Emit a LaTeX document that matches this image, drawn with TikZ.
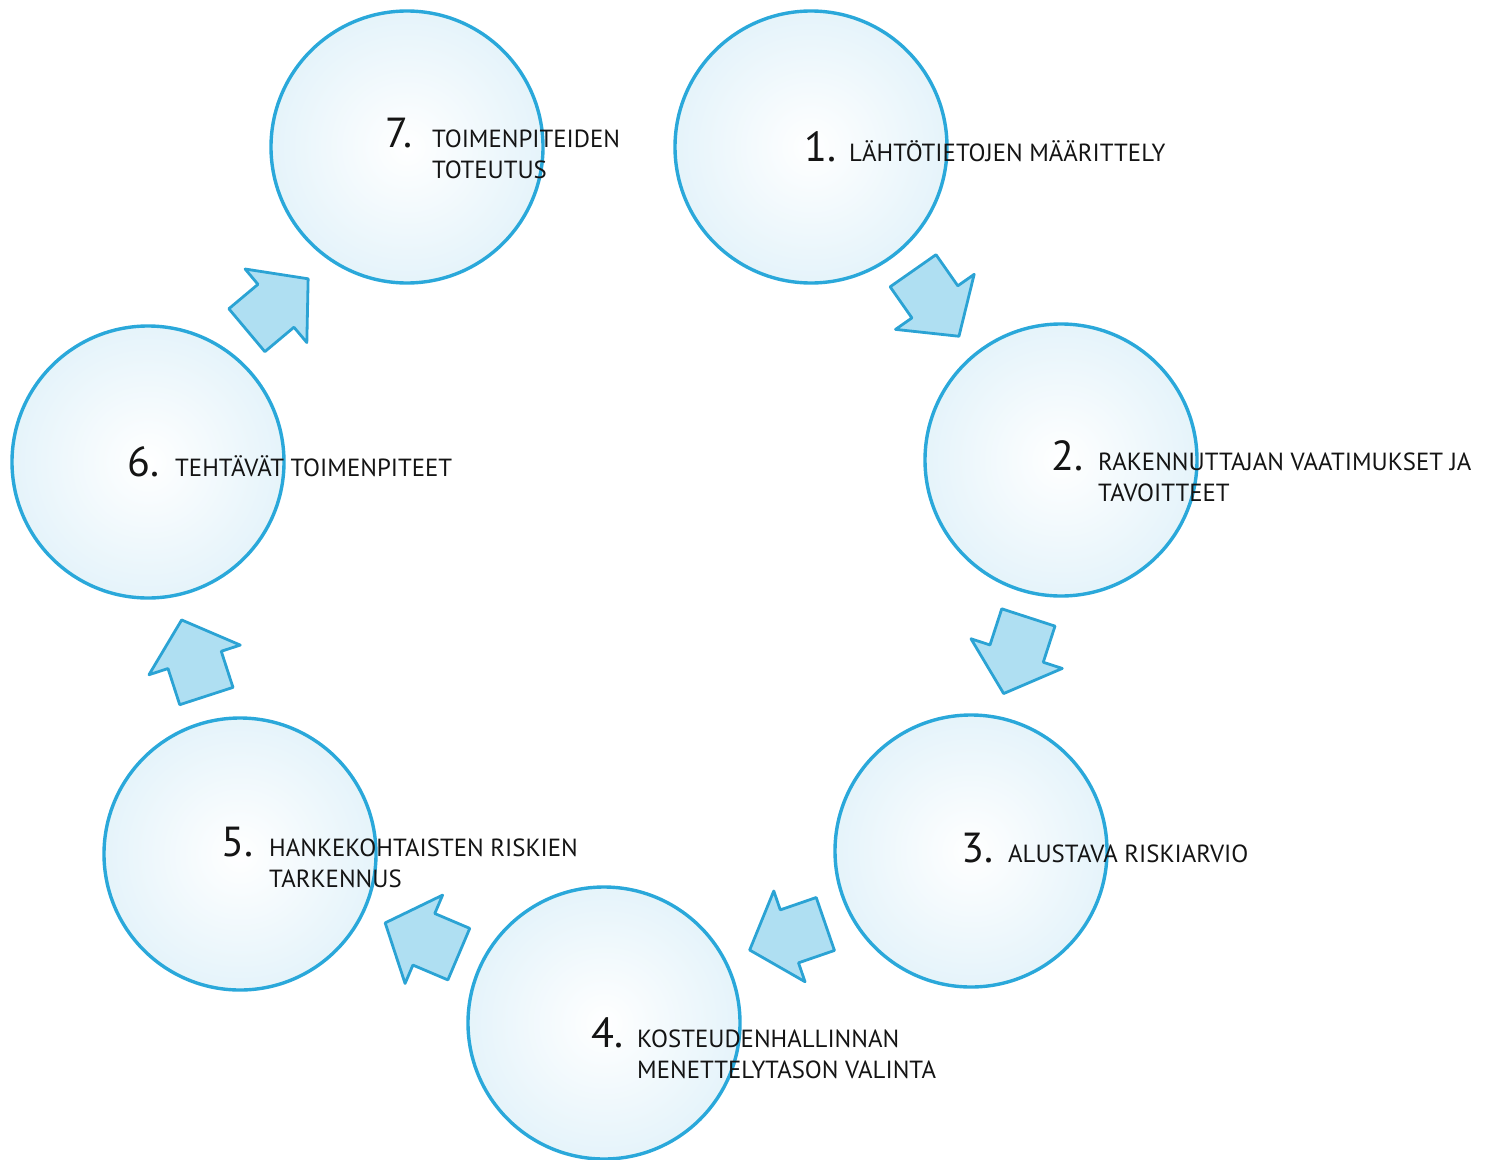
\documentclass[tikz,border=0pt]{standalone}
\usepackage{fontspec}
\setmainfont{PT Sans}
\usetikzlibrary{calc}
\definecolor{bubbleline}{HTML}{2AA8DA}
\definecolor{bubbleedge}{HTML}{BDE3F4}
\definecolor{bubblemid}{HTML}{E4F3FA}
\definecolor{arrowfill}{HTML}{AFDFF2}
\definecolor{arrowline}{HTML}{2BA3D4}
\definecolor{txt}{HTML}{141414}
\pgfdeclareradialshading{bubbleshade}{\pgfpoint{0bp}{0bp}}{%
  color(0bp)=(white); color(26bp)=(bubblemid); color(44bp)=(bubbleedge); color(50bp)=(bubbleedge)}
\tikzset{
  bubble/.style={circle, draw=bubbleline, line width=3.4pt, shading=bubbleshade,
    minimum size=272pt, inner sep=0pt},
  numlabel/.style={anchor=base west, inner sep=0pt, text=txt,
    font=\fontsize{42}{44}\selectfont},
  steplabel/.style={anchor=base west, inner sep=0pt, text=txt, align=left,
    font=\fontsize{24.8}{31}\selectfont},
  blockarr/.pic={
    \draw[line width=2.8pt, draw=arrowline, fill=arrowfill, line join=round]
      (-40pt,-28pt) -- (-2pt,-28pt) -- (-2pt,-48pt) -- (40pt,0pt)
      -- (-2pt,48pt) -- (-2pt,28pt) -- (-40pt,28pt) -- cycle;
  }
}
\begin{document}
\begin{tikzpicture}[x=1pt,y=-1pt]
\useasboundingbox (0,0) rectangle (1498,1159);
% circles
\node[bubble] (c7) at (407,147) {};
\node[bubble] (c1) at (811,147) {};
\node[bubble] (c2) at (1061,460) {};
\node[bubble] (c3) at (971,851) {};
\node[bubble] (c4) at (604,1023) {};
\node[bubble] (c5) at (240,854) {};
\node[bubble] (c6) at (148,462) {};
% arrows
\coordinate (a1) at ($(c1)!0.5!(c2)$);
\coordinate (a2) at ($(c2)!0.5!(c3)$);
\coordinate (a3) at ($(c3)!0.5!(c4)$);
\coordinate (a4) at ($(c4)!0.5!(c5)$);
\coordinate (a5) at ($(c5)!0.5!(c6)$);
\coordinate (a6) at ($(c6)!0.5!(c7)$);
\pic[rotate=-55] at (a1) {blockarr};
\pic[rotate=-108] at (a2) {blockarr};
\pic[rotate=-161] at (a3) {blockarr};
\pic[rotate=157] at (a4) {blockarr};
\pic[rotate=108] at (a5) {blockarr};
\pic[rotate=40] at (a6) {blockarr};
% labels (two-line labels are anchored at the baseline of their last line)
\node[numlabel] (n7) at (385,147) {7.};
\node[steplabel] (t7) at (432,178) {TOIMENPITEIDEN\\TOTEUTUS};
\node[numlabel] (n1) at (804,161) {1.};
\node[steplabel] (t1) at (849,161) {LÄHTÖTIETOJEN MÄÄRITTELY};
\node[numlabel] (n2) at (1051,470) {2.};
\node[steplabel] (t2) at (1098,501) {RAKENNUTTAJAN VAATIMUKSET JA\\TAVOITTEET};
\node[numlabel] (n3) at (961,862) {3.};
\node[steplabel] (t3) at (1008,862) {ALUSTAVA RISKIARVIO};
\node[numlabel] (n4) at (591,1047) {4.};
\node[steplabel] (t4) at (637,1078) {KOSTEUDENHALLINNAN\\MENETTELYTASON VALINTA};
\node[numlabel] (n5) at (221,856) {5.};
\node[steplabel] (t5) at (269,887) {HANKEKOHTAISTEN RISKIEN\\TARKENNUS};
\node[numlabel] (n6) at (127,476) {6.};
\node[steplabel] (t6) at (175,476) {TEHTÄVÄT TOIMENPITEET};
\end{tikzpicture}
\end{document}
